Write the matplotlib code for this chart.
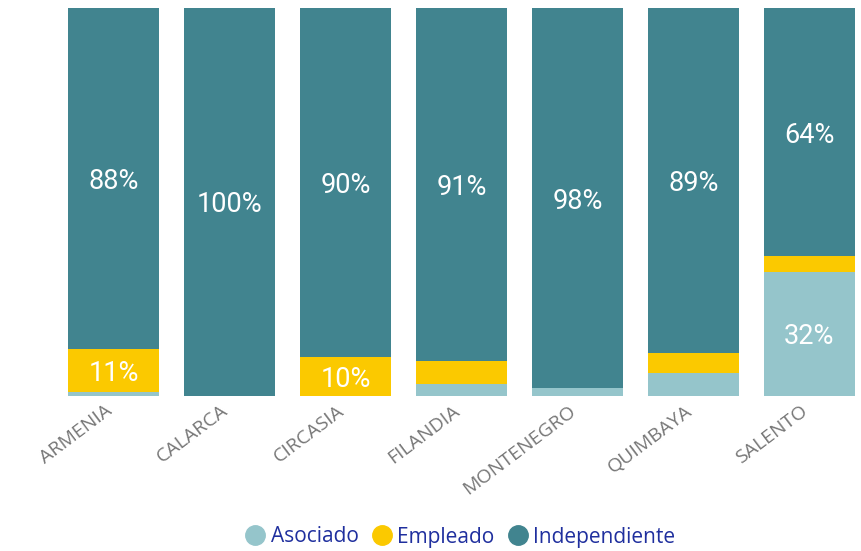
import matplotlib
matplotlib.use("Agg")
import matplotlib.pyplot as plt
import matplotlib.transforms as mtransforms
import numpy as np
from matplotlib.lines import Line2D

# data (percent shares per municipality)
municipios = ["ARMENIA", "CALARCA", "CIRCASIA", "FILANDIA", "MONTENEGRO", "QUIMBAYA", "SALENTO"]
asociado = [1, 0, 0, 3, 2, 6, 32]
empleado = [11, 0, 10, 6, 0, 5, 4]
independiente = [88, 100, 90, 91, 98, 89, 64]

series_names = ["Asociado", "Empleado", "Independiente"]
colors = ["#95C5CB", "#FBC900", "#41848F"]

fig = plt.figure(figsize=(8.62, 5.51), dpi=100)
# axes placed in pixels: x from 60 to 860, y from 155 to 543
ax = fig.add_axes([60 / 862, 155 / 551, 800 / 862, 388 / 551])

x = np.arange(len(municipios))
bottom = np.zeros(len(municipios))
for name, vals, col in zip(series_names, [asociado, empleado, independiente], colors):
    vals = np.array(vals, dtype=float)
    ax.bar(x, vals, bottom=bottom, width=0.785, color=col, linewidth=0)
    for i in range(len(x)):
        if vals[i] >= 10:
            ax.text(x[i], bottom[i] + vals[i] / 2, "{0:.0f}%".format(vals[i]),
                    ha="center", va="center_baseline", color="white", fontsize=19.5,
                    family="Roboto")
    bottom += vals

ax.set_xlim(-0.461, 6.436)
ax.set_ylim(0, 100)
for s in ax.spines.values():
    s.set_visible(False)
ax.set_yticks([])
ax.set_xticks(x)
ax.set_xticklabels(municipios, rotation=37, ha="right", rotation_mode="anchor",
                   color="#777777", fontsize=14, family="Open Sans")
ax.tick_params(axis="x", length=0, pad=4)
# nudge the rotated labels a bit to the left
offset = mtransforms.ScaledTranslation(-9 / 100, 0, fig.dpi_scale_trans)
for lbl in ax.get_xticklabels():
    lbl.set_transform(lbl.get_transform() + offset)

handles = [Line2D([0], [0], marker="o", linestyle="", markersize=14,
                  markerfacecolor=c, markeredgecolor=c) for c in colors]
leg = fig.legend(handles, series_names, loc="center", bbox_to_anchor=(455 / 862, 1 - 537 / 551),
                 ncol=3, frameon=False, handletextpad=-0.25, columnspacing=0.1,
                 prop={"family": "Open Sans", "size": 15})
for t in leg.get_texts():
    t.set_color("#1F2F9E")

fig.savefig("out.png", dpi=100)
